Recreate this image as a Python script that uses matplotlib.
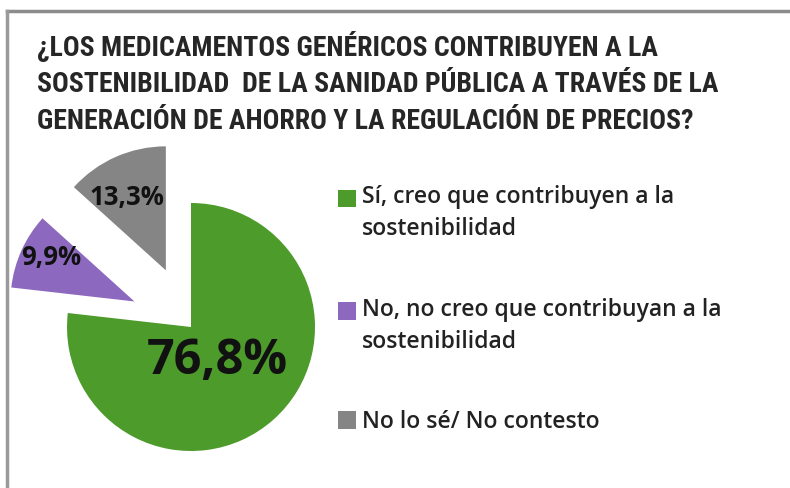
import matplotlib.pyplot as plt
from matplotlib.lines import Line2D
from matplotlib.patches import Rectangle
from matplotlib.legend_handler import HandlerPatch
from matplotlib import font_manager

# --- DATA ---
categories = [
    "Sí, creo que contribuyen a la\nsostenibilidad",
    "No, no creo que contribuyan a la\nsostenibilidad",
    "No lo sé/ No contesto",
]
values = [76.8, 9.9, 13.3]
value_labels = ["76,8%", "9,9%", "13,3%"]
colors = ["#4d9b2b", "#8c69be", "#858585"]
title = ("¿LOS MEDICAMENTOS GENÉRICOS CONTRIBUYEN A LA\n"
         "SOSTENIBILIDAD  DE LA SANIDAD PÚBLICA A TRAVÉS DE LA\n"
         "GENERACIÓN DE AHORRO Y LA REGULACIÓN DE PRECIOS?")

# pick a narrow font for the title if one is around
names = {f.name for f in font_manager.fontManager.ttflist}
title_kw = dict(family=["Roboto", "DejaVu Sans"], fontsize=15.5)
for cand in ["Liberation Sans Narrow", "DejaVu Sans Condensed", "Roboto Condensed"]:
    if cand in names:
        title_kw = dict(family=[cand, "DejaVu Sans"], fontsize=20)
        break

W, H = 790, 488
fig = plt.figure(figsize=(W / 100, H / 100), dpi=100)
fig.patch.set_facecolor("white")

# axes in pixel units (y measured upwards)
ax = fig.add_axes([0, 0, 1, 1])

# frame lines (top and left)
fig.add_artist(Line2D([7 / W, 1], [1 - 11 / H, 1 - 11 / H], color="#8c8c8c", lw=2.5))
fig.add_artist(Line2D([7 / W, 7 / W], [0, 1 - 11 / H], color="#9a9a9a", lw=2.5))

cx, cy, r = 191, H - 327, 124
wedges, _ = ax.pie(values, colors=colors, startangle=90, counterclock=False,
                   explode=[0, 0.5 * r, 0.5 * r], center=(cx, cy), radius=r,
                   wedgeprops=dict(linewidth=0), frame=True)
ax.set_xlim(0, W)
ax.set_ylim(0, H)
ax.axis("off")

lab_font = ["Open Sans", "DejaVu Sans"]
ax.text(217, H - 362, value_labels[0], fontsize=35, family=lab_font,
        fontweight="bold", ha="center", va="center", color="#111111")
ax.text(51, H - 257, value_labels[1], fontsize=18.5, family=lab_font,
        fontweight="bold", ha="center", va="center", color="#111111")
ax.text(127, H - 198, value_labels[2], fontsize=18.5, family=lab_font,
        fontweight="bold", ha="center", va="center", color="#111111")

fig.text(37 / W, 1 - 31 / H, title, color="#262626", ha="left", va="top",
         fontweight="bold", linespacing=1.45, **title_kw)

# legend squares sit next to the first line of a two-line label
n_lines = {w: lab.count("\n") + 1 for w, lab in zip(wedges, categories)}


def square(legend, orig_handle, xdescent, ydescent, width, height, fontsize):
    shift = (n_lines[orig_handle] - 1) * 11.5
    return Rectangle((-xdescent, -ydescent + shift), width, height)


leg = ax.legend(wedges, categories, loc="upper left",
                bbox_to_anchor=(338 / W, 1 - 185 / H), bbox_transform=fig.transFigure,
                frameon=False, prop=dict(family=lab_font, size=16.5, weight="semibold"),
                handlelength=0.8, handleheight=0.8, handletextpad=0.25,
                labelspacing=2.45, borderaxespad=0, borderpad=0,
                handler_map={w: HandlerPatch(patch_func=square) for w in wedges})
for t in leg.get_texts():
    t.set_linespacing(1.47)
    t.set_color("#222222")

fig.savefig("out.png", dpi=100, facecolor="white")
